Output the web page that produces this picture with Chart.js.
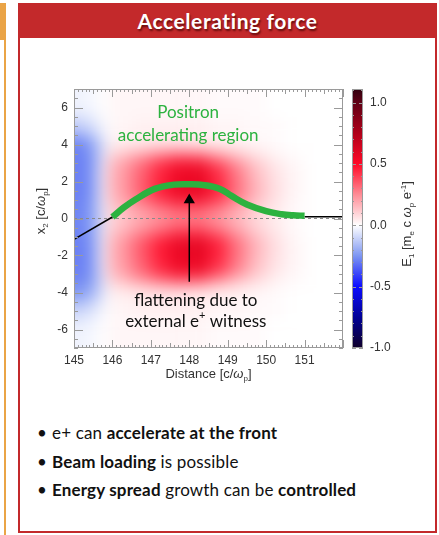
<!DOCTYPE html>
<html>
<head>
    <meta charset="utf-8">
    <title>Accelerating force</title>
<script src="https://cdn.jsdelivr.net/npm/chart.js"></script>
<style>
    body { margin: 0; width: 439px; height: 535px; position: relative; overflow: hidden; background: #fff; font-family: Lato, "Open Sans", sans-serif; color: #111; }
    .edge { position: absolute; background: #eaa446; }
    #box { position: absolute; left: 18px; top: 3px; width: 415px; height: 528px; border: 2px solid #c3292b; border-top: 0; }
    #head { position: absolute; left: 18px; top: 3px; width: 419px; height: 35px; background: #c3292b; color: #fff; font-weight: bold; font-size: 21px; letter-spacing: 0.6px; line-height: 35px; text-align: center; text-shadow: 1px 2px 2px rgba(60,0,0,0.7); }
    #plot { position: absolute; left: 20px; top: 40px; width: 415px; height: 350px; }
    .pt { position: absolute; left: 52px; font-size: 17px; line-height: 20px; letter-spacing: 0.15px; white-space: nowrap; }
    .pt:before { content: "\2022"; position: absolute; left: -15px; }
</style>
</head>
<body>
<div class="edge" style="left:0;top:3px;width:5px;height:37px"></div>
<div class="edge" style="left:4px;top:3px;width:2px;height:532px"></div>
<div id="box"></div>
<div id="head">Accelerating force</div>
<div id="plot"><canvas id="chart"></canvas></div>
<div class="pt" style="top:423px">e+ can <b>accelerate at the front</b></div>
<div class="pt" style="top:452px"><b>Beam loading</b> is possible</div>
<div class="pt" style="top:480px"><b>Energy spread</b> growth can be <b>controlled</b></div>

<script>
    // field E1 on a coarse grid (cell edges in c/wp)
    const distEdges = [145, 145.3, 145.6, 145.8, 146, 146.5, 147, 147.5, 148, 148.5, 149, 149.5, 150, 150.5, 151, 152];
    const x2Edges = [7, 5.5, 4.5, 3.6, 3, 2, 1, 0.4, -0.4, -1, -2, -3, -3.6, -4.5, -5.5, -7];
    const e1 = [
        [-0.03, -0.02, 0.00, 0.01, 0.02, 0.02, 0.02, 0.02, 0.02, 0.01, 0.01, 0.01, 0.00, 0.00, 0.00],
        [-0.12, -0.08, -0.02, 0.01, 0.02, 0.03, 0.03, 0.03, 0.03, 0.02, 0.02, 0.01, 0.01, 0.00, 0.00],
        [-0.28, -0.22, -0.09, 0.02, 0.04, 0.05, 0.06, 0.06, 0.05, 0.04, 0.03, 0.02, 0.01, 0.00, 0.00],
        [-0.29, -0.26, -0.08, 0.07, 0.16, 0.25, 0.34, 0.40, 0.38, 0.27, 0.16, 0.08, 0.03, 0.01, 0.00],
        [-0.29, -0.26, -0.04, 0.11, 0.21, 0.33, 0.45, 0.55, 0.56, 0.43, 0.28, 0.14, 0.06, 0.02, 0.00],
        [-0.29, -0.26, -0.04, 0.11, 0.21, 0.34, 0.46, 0.56, 0.57, 0.45, 0.30, 0.16, 0.07, 0.02, 0.00],
        [-0.28, -0.24, -0.05, 0.08, 0.16, 0.25, 0.33, 0.40, 0.40, 0.32, 0.21, 0.11, 0.05, 0.01, 0.00],
        [-0.28, -0.24, -0.06, 0.06, 0.12, 0.18, 0.23, 0.27, 0.27, 0.22, 0.15, 0.08, 0.04, 0.01, 0.00],
        [-0.28, -0.24, -0.05, 0.08, 0.16, 0.25, 0.33, 0.41, 0.41, 0.32, 0.21, 0.11, 0.05, 0.01, 0.00],
        [-0.29, -0.26, -0.04, 0.11, 0.22, 0.35, 0.47, 0.57, 0.58, 0.46, 0.30, 0.16, 0.07, 0.02, 0.00],
        [-0.29, -0.26, -0.04, 0.11, 0.21, 0.33, 0.45, 0.55, 0.56, 0.43, 0.28, 0.14, 0.06, 0.02, 0.00],
        [-0.28, -0.25, -0.08, 0.07, 0.15, 0.24, 0.32, 0.38, 0.36, 0.25, 0.15, 0.08, 0.03, 0.01, 0.00],
        [-0.24, -0.18, -0.08, 0.02, 0.04, 0.05, 0.06, 0.06, 0.05, 0.04, 0.03, 0.02, 0.01, 0.00, 0.00],
        [-0.10, -0.07, -0.02, 0.01, 0.02, 0.03, 0.03, 0.03, 0.03, 0.02, 0.02, 0.01, 0.01, 0.00, 0.00],
        [-0.03, -0.02, 0.00, 0.01, 0.02, 0.02, 0.02, 0.02, 0.02, 0.01, 0.01, 0.01, 0.00, 0.00, 0.00]
    ];

    // wake line, beam part (green) and the black ends
    const frontX = [145, 146];
    const frontY = [-1.13, 0.08];
    const beamX = [146, 146.3, 146.6, 147.1, 147.6, 148.0, 148.4, 148.8, 149.1, 149.5, 150.0, 150.4, 150.7, 151.0];
    const beamY = [0.08, 0.6, 1.03, 1.6, 1.83, 1.85, 1.8, 1.6, 1.22, 0.76, 0.4, 0.23, 0.17, 0.15];
    const tailX = [151, 152];
    const tailY = [0.1, 0.1];
    const arrowX = [148, 148];
    const arrowY = [-3.42, 1.0];

    const xTicks = [145, 146, 147, 148, 149, 150, 151];
    const yTicks = [-6, -4, -2, 0, 2, 4, 6];
    const cbTicks = [-1.0, -0.5, 0.0, 0.5, 1.0];

    const cmapStops = [
        [-1.0, [16, 0, 42]], [-0.75, [0, 0, 150]], [-0.5, [12, 12, 255]], [-0.25, [125, 150, 242]],
        [0, [255, 255, 255]], [0.25, [255, 140, 150]], [0.5, [255, 10, 40]], [0.75, [175, 0, 25]],
        [1.0, [95, 0, 20]], [1.11, [48, 0, 14]]
    ];

    function cmap(v) {
        if (v <= cmapStops[0][0]) return cmapStops[0][1];
        for (let i = 1; i < cmapStops.length; i++) {
            const [v1, c1] = cmapStops[i];
            if (v <= v1) {
                const [v0, c0] = cmapStops[i - 1];
                const t = (v - v0) / (v1 - v0);
                return c0.map((c, k) => Math.round(c + (c1[k] - c) * t));
            }
        }
        return cmapStops[cmapStops.length - 1][1];
    }
    const rgb = c => `rgb(${c[0]},${c[1]},${c[2]})`;

    const green = '#2cb23f';
    const sans = '"Liberation Sans", Arial, sans-serif';
    const omega = '\u03C9';

    const notes = [
        { text: 'Positron', x: 147.97, y: 5.72, color: green },
        { text: 'accelerating region', x: 147.97, y: 4.47, color: green },
        { text: 'flattening due to', x: 148.17, y: -4.45, color: '#111' },
        { text: 'external e', sup: '+', rest: ' witness', x: 148.17, y: -5.55, color: '#111' }
    ];

    function richText(ctx, parts, x, y, size, rot) {
        ctx.save();
        ctx.translate(x, y);
        ctx.rotate(rot);
        ctx.fillStyle = '#333';
        ctx.textAlign = 'left';
        ctx.textBaseline = 'alphabetic';
        const fontOf = p => `${p.it ? 'italic ' : ''}${p.sub || p.sup ? Math.round(size * 0.62) : size}px ${sans}`;
        let w = 0;
        parts.forEach(p => { ctx.font = fontOf(p); w += ctx.measureText(p.t).width; });
        let cx = -w / 2;
        parts.forEach(p => {
            ctx.font = fontOf(p);
            const dy = p.sub ? size * 0.22 : p.sup ? -size * 0.38 : 0;
            ctx.fillText(p.t, cx, size * 0.36 + dy);
            cx += ctx.measureText(p.t).width;
        });
        ctx.restore();
    }

    const fieldPlugin = {
        id: 'field',
        beforeDatasetsDraw(chart) {
            const { ctx, chartArea: a, scales: { x, y } } = chart;
            const off = document.createElement('canvas');
            off.width = chart.canvas.width;
            off.height = chart.canvas.height;
            const o = off.getContext('2d');
            for (let i = 0; i < e1.length; i++) {
                for (let j = 0; j < e1[i].length; j++) {
                    let x0 = x.getPixelForValue(distEdges[j]);
                    let x1 = x.getPixelForValue(distEdges[j + 1]);
                    let y0 = y.getPixelForValue(x2Edges[i]);
                    let y1 = y.getPixelForValue(x2Edges[i + 1]);
                    if (j === 0) x0 -= 30;
                    if (j === e1[i].length - 1) x1 += 30;
                    if (i === 0) y0 -= 30;
                    if (i === e1.length - 1) y1 += 30;
                    o.fillStyle = rgb(cmap(e1[i][j]));
                    o.fillRect(x0, y0, x1 - x0 + 0.5, y1 - y0 + 0.5);
                }
            }
            ctx.save();
            ctx.beginPath();
            ctx.rect(a.left, a.top, a.right - a.left, a.bottom - a.top);
            ctx.clip();
            ctx.filter = 'blur(8px)';
            ctx.drawImage(off, 0, 0);
            ctx.restore();
        },
        afterDatasetsDraw(chart) {
            const { ctx, chartArea: a, scales: { x, y, cb } } = chart;
            ctx.save();
            // annotations
            ctx.textAlign = 'center';
            ctx.textBaseline = 'middle';
            notes.forEach(n => {
                ctx.fillStyle = n.color;
                ctx.font = '17px Lato, sans-serif';
                const px = x.getPixelForValue(n.x), py = y.getPixelForValue(n.y);
                if (!n.sup) { ctx.fillText(n.text, px, py); return; }
                const w1 = ctx.measureText(n.text).width, w3 = ctx.measureText(n.rest).width;
                ctx.font = '11px Lato, sans-serif';
                const w2 = ctx.measureText(n.sup).width;
                let cx = px - (w1 + w2 + w3) / 2;
                ctx.textAlign = 'left';
                ctx.font = '17px Lato, sans-serif';
                ctx.fillText(n.text, cx, py); cx += w1;
                ctx.font = '11px Lato, sans-serif';
                ctx.fillText(n.sup, cx, py - 6); cx += w2;
                ctx.font = '17px Lato, sans-serif';
                ctx.fillText(n.rest, cx, py);
                ctx.textAlign = 'center';
            });

            // frame and inward ticks
            ctx.strokeStyle = '#9a9a9a';
            ctx.lineWidth = 1;
            ctx.strokeRect(a.left + 0.5, a.top + 0.5, a.right - a.left - 1, a.bottom - a.top - 1);
            ctx.beginPath();
            for (let k = 0; k <= 70; k++) {
                const px = Math.round(x.getPixelForValue(145 + k / 10)) + 0.5;
                const len = k % 10 === 0 ? 8 : (k % 5 === 0 ? 5 : 3);
                ctx.moveTo(px, a.bottom); ctx.lineTo(px, a.bottom - len);
                ctx.moveTo(px, a.top); ctx.lineTo(px, a.top + len);
            }
            for (let k = 0; k <= 28; k++) {
                const py = Math.round(y.getPixelForValue(-7 + k / 2)) + 0.5;
                const len = k % 4 === 2 ? 9 : 4;
                ctx.moveTo(a.left, py); ctx.lineTo(a.left + len, py);
                ctx.moveTo(a.right, py); ctx.lineTo(a.right - len, py);
            }
            ctx.stroke();

            // colour bar
            const bl = a.right + 9, bw = 11;
            const bt = cb.getPixelForValue(cb.max), bb = cb.getPixelForValue(cb.min);
            const g = ctx.createLinearGradient(0, bb, 0, bt);
            cmapStops.forEach(([v, c]) => g.addColorStop((v - cb.min) / (cb.max - cb.min), rgb(c)));
            ctx.fillStyle = g;
            ctx.fillRect(bl, bt, bw, bb - bt);
            ctx.strokeStyle = '#9a9a9a';
            ctx.strokeRect(bl + 0.5, bt + 0.5, bw - 1, bb - bt - 1);
            ctx.beginPath();
            for (let k = -10; k <= 11; k++) {
                const py = Math.round(cb.getPixelForValue(k / 10)) + 0.5;
                const len = k % 5 === 0 ? 4 : 2;
                ctx.moveTo(bl, py); ctx.lineTo(bl + len, py);
                ctx.moveTo(bl + bw, py); ctx.lineTo(bl + bw - len, py);
            }
            ctx.stroke();
            ctx.restore();

            // axis titles
            richText(ctx, [{ t: 'Distance [c/' }, { t: omega, it: true }, { t: 'p', sub: true }, { t: ']' }],
                (a.left + a.right) / 2, a.bottom + 25, 13, 0);
            richText(ctx, [{ t: 'x' }, { t: '2', sub: true }, { t: ' [c/' }, { t: omega, it: true }, { t: 'p', sub: true }, { t: ']' }],
                20, 171, 13, -Math.PI / 2);
            richText(ctx, [{ t: 'E' }, { t: '1', sub: true }, { t: ' [m' }, { t: 'e', sub: true }, { t: ' c ' }, { t: omega, it: true },
                { t: 'p', sub: true }, { t: ' e' }, { t: '-1', sup: true }, { t: ']' }],
                a.right + 63, 184, 13, -Math.PI / 2);
        }
    };

    const tickFont = { family: sans, size: 12 };

    new Chart(document.getElementById('chart'), {
        type: 'line',
        data: {
            datasets: [
                {
                    label: 'arrow',
                    data: arrowX.map((v, i) => ({ x: v, y: arrowY[i] })),
                    borderColor: '#000', backgroundColor: '#000', borderWidth: 1.5,
                    pointRadius: [0, 5], pointStyle: 'triangle', order: 1
                },
                {
                    label: 'beam',
                    data: beamX.map((v, i) => ({ x: v, y: beamY[i] })),
                    borderColor: green, borderWidth: 6.5, borderCapStyle: 'butt',
                    tension: 0.4, pointRadius: 0, order: 2
                },
                {
                    label: 'front',
                    data: frontX.map((v, i) => ({ x: v, y: frontY[i] })),
                    borderColor: '#000', borderWidth: 1.5, pointRadius: 0, order: 3
                },
                {
                    label: 'tail',
                    data: tailX.map((v, i) => ({ x: v, y: tailY[i] })),
                    borderColor: '#000', borderWidth: 1.5, pointRadius: 0, order: 3
                },
                {
                    label: 'axis',
                    data: [{ x: 145, y: 0 }, { x: 152, y: 0 }],
                    borderColor: '#8a8a8a', borderWidth: 1, borderDash: [3, 3], pointRadius: 0, order: 5
                }
            ]
        },
        options: {
            responsive: true,
            maintainAspectRatio: false,
            animation: false,
            layout: { padding: { top: 49, left: 0, right: 0, bottom: 0 } },
            plugins: { legend: { display: false }, tooltip: { enabled: false } },
            scales: {
                x: {
                    type: 'linear', min: 145, max: 152,
                    afterBuildTicks: s => { s.ticks = xTicks.map(v => ({ value: v })); },
                    afterFit: s => { s.height = 42; },
                    ticks: { font: tickFont, color: '#333', padding: 5, maxRotation: 0 },
                    grid: { display: false, drawTicks: false },
                    border: { display: false }
                },
                y: {
                    type: 'linear', min: -7, max: 7, position: 'left',
                    afterBuildTicks: s => { s.ticks = yTicks.map(v => ({ value: v })); },
                    afterFit: s => { s.width = 54; },
                    ticks: { font: tickFont, color: '#333', padding: 6 },
                    grid: { display: false, drawTicks: false },
                    border: { display: false }
                },
                cb: {
                    type: 'linear', min: -1.0, max: 1.11, position: 'right',
                    afterBuildTicks: s => { s.ticks = cbTicks.map(v => ({ value: v })); },
                    afterFit: s => { s.width = 92; },
                    ticks: { font: tickFont, color: '#333', padding: 5, callback: v => v.toFixed(1) },
                    grid: { display: false, drawTicks: true, tickLength: 22 },
                    border: { display: false }
                }
            }
        },
        plugins: [fieldPlugin]
    });
</script>
</body>
</html>
